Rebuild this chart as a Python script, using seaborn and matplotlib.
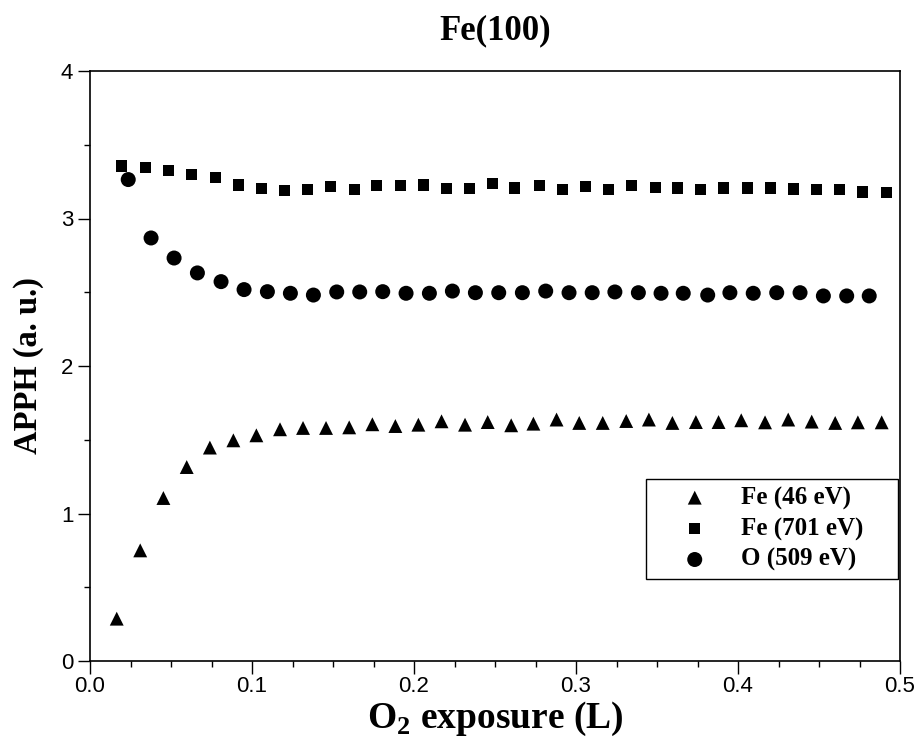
import matplotlib
matplotlib.use("Agg")
import matplotlib.pyplot as plt
from matplotlib.ticker import MultipleLocator
import seaborn as sns
import pandas as pd

# Fe (46 eV) - triangles
fe46_x = [0.0165, 0.0310, 0.0453, 0.0597, 0.0740, 0.0885, 0.1027, 0.1173, 0.1315, 0.1457,
          0.1600, 0.1743, 0.1885, 0.2027, 0.2170, 0.2315, 0.2455, 0.2600, 0.2737, 0.2880,
          0.3020, 0.3165, 0.3310, 0.3450, 0.3595, 0.3740, 0.3880, 0.4020, 0.4167, 0.4310,
          0.4455, 0.4600, 0.4740, 0.4887]
fe46_y = [0.287, 0.750, 1.105, 1.315, 1.447, 1.496, 1.530, 1.571, 1.580, 1.580,
          1.584, 1.605, 1.593, 1.602, 1.625, 1.602, 1.620, 1.598, 1.609, 1.637,
          1.614, 1.614, 1.627, 1.637, 1.614, 1.620, 1.620, 1.632, 1.618, 1.637,
          1.623, 1.614, 1.618, 1.618]

# Fe (701 eV) - squares
fe701_x = [0.0196, 0.0340, 0.0484, 0.0628, 0.0772, 0.0916, 0.1060, 0.1200, 0.1340, 0.1486,
           0.1630, 0.1770, 0.1914, 0.2057, 0.2198, 0.2340, 0.2483, 0.2623, 0.2774, 0.2915,
           0.3060, 0.3200, 0.3344, 0.3488, 0.3628, 0.3770, 0.3910, 0.4057, 0.4198, 0.4340,
           0.4486, 0.4625, 0.4770, 0.4914]
fe701_y = [3.356, 3.347, 3.325, 3.298, 3.277, 3.227, 3.205, 3.191, 3.198, 3.216,
           3.198, 3.225, 3.223, 3.227, 3.205, 3.203, 3.237, 3.207, 3.225, 3.196,
           3.214, 3.196, 3.223, 3.209, 3.207, 3.198, 3.207, 3.207, 3.207, 3.200,
           3.198, 3.196, 3.180, 3.176]

# O (509 eV) - circles
o509_x = [0.0236, 0.0377, 0.0519, 0.0663, 0.0809, 0.0951, 0.1095, 0.1237, 0.1379, 0.1523,
          0.1665, 0.1807, 0.1951, 0.2095, 0.2237, 0.2379, 0.2523, 0.2669, 0.2813, 0.2957,
          0.3100, 0.3240, 0.3385, 0.3525, 0.3662, 0.3813, 0.3950, 0.4094, 0.4239, 0.4383,
          0.4527, 0.4671, 0.4810]
o509_y = [3.264, 2.868, 2.732, 2.631, 2.572, 2.518, 2.504, 2.493, 2.481, 2.502,
          2.502, 2.504, 2.493, 2.493, 2.508, 2.497, 2.497, 2.497, 2.508, 2.497,
          2.497, 2.502, 2.497, 2.493, 2.493, 2.481, 2.497, 2.493, 2.497, 2.497,
          2.475, 2.475, 2.475]

series_names = ["Fe (46 eV)", "Fe (701 eV)", "O (509 eV)"]
title = "Fe(100)"
xlabel = "O$_\\mathbf{2}$ exposure (L)"
ylabel = "APPH (a. u.)"
xtick_labels = ["0.0", "0.1", "0.2", "0.3", "0.4", "0.5"]

df = pd.concat([
    pd.DataFrame({"x": fe46_x, "y": fe46_y, "series": series_names[0]}),
    pd.DataFrame({"x": fe701_x, "y": fe701_y, "series": series_names[1]}),
    pd.DataFrame({"x": o509_x, "y": o509_y, "series": series_names[2]}),
], ignore_index=True)

sns.set_style("ticks")
plt.rcParams["font.family"] = ["Liberation Sans", "DejaVu Sans"]
plt.rcParams["mathtext.fontset"] = "custom"
plt.rcParams["mathtext.rm"] = "Liberation Serif:bold"
plt.rcParams["mathtext.bf"] = "Liberation Serif:bold"
for k in ["text.color", "axes.labelcolor", "xtick.color", "ytick.color", "axes.edgecolor"]:
    plt.rcParams[k] = "black"

fig = plt.figure(figsize=(9.22, 7.55), dpi=100)
ax = fig.add_axes([90 / 922, 1 - 661 / 755, 810 / 922, 590 / 755])

sizes = {series_names[0]: 10.0, series_names[1]: 8.0, series_names[2]: 10.8}
markers = {series_names[0]: "^", series_names[1]: "s", series_names[2]: "o"}
for name in series_names:
    sub = df[df["series"] == name]
    sns.scatterplot(data=sub, x="x", y="y", ax=ax, marker=markers[name],
                    s=sizes[name] ** 2, color="black", edgecolor="none",
                    linewidth=0, label=name)

ax.set_xlim(0, 0.5)
ax.set_ylim(0, 4)
ax.xaxis.set_major_locator(MultipleLocator(0.1))
ax.xaxis.set_minor_locator(MultipleLocator(0.025))
ax.yaxis.set_major_locator(MultipleLocator(1))
ax.yaxis.set_minor_locator(MultipleLocator(0.5))
ax.set_xticks([0.0, 0.1, 0.2, 0.3, 0.4, 0.5])
ax.set_xticklabels(xtick_labels)
ax.tick_params(axis="both", which="major", direction="out", length=9, width=1.0,
               labelsize=16, colors="black")
ax.tick_params(axis="x", which="major", pad=2)
ax.tick_params(axis="y", which="major", pad=3)
ax.tick_params(axis="both", which="minor", direction="out", length=4.5, width=1.0)
for sp in ax.spines.values():
    sp.set_visible(True)
    sp.set_linewidth(1.2)
    sp.set_color("black")

serif = ["Liberation Serif", "DejaVu Serif"]
ax.set_title(title, fontsize=25, fontweight="bold", family=serif, pad=23)
ax.set_xlabel(xlabel, fontsize=27, fontweight="bold", family=serif, labelpad=2)
ax.set_ylabel(ylabel, fontsize=23.5, fontweight="bold", family=serif, labelpad=12)

leg = ax.legend(loc="lower left", bbox_to_anchor=(0.6864, 0.139, 0.311, 0.163),
                mode="expand", borderaxespad=0,
                frameon=True, fancybox=False, edgecolor="black", framealpha=1,
                prop={"family": serif, "weight": "bold", "size": 18},
                handlelength=3.3, handletextpad=0.22, labelspacing=0.3,
                borderpad=0.3, markerscale=1.0)
leg.get_frame().set_linewidth(1.0)

fig.savefig("out.png", dpi=100)
